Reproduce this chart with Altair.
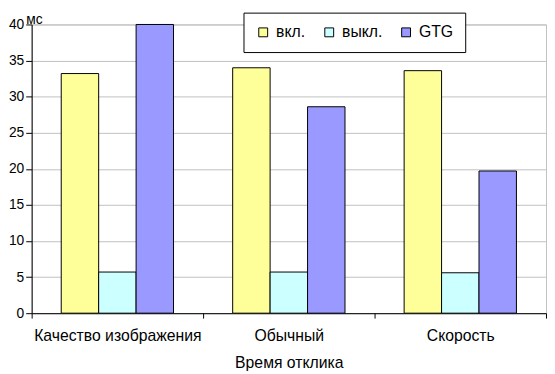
import altair as alt
import pandas as pd

categories = ["Качество изображения", "Обычный", "Скорость"]
series = ["вкл.", "выкл.", "GTG"]
vkl = [33.2, 34.0, 33.6]
vykl = [5.7, 5.7, 5.6]
gtg = [40.0, 28.6, 19.7]
colors = ["#FFFF99", "#CCFFFF", "#9999FF"]
y_ticks = [0, 5, 10, 15, 20, 25, 30, 35, 40]

rows = []
for i, c in enumerate(categories):
    for s, vals in zip(series, [vkl, vykl, gtg]):
        rows.append({"cat": c, "series": s, "value": vals[i]})
df = pd.DataFrame(rows)

FONT = "Liberation Sans"

chart = alt.Chart(df).mark_bar(stroke="black", strokeWidth=1).encode(
    x=alt.X(
        "cat:N", sort=categories, title="Время отклика",
        scale=alt.Scale(paddingInner=0, paddingOuter=0),
        axis=alt.Axis(labelAngle=0, tickBand="extent", tickSize=5, domainColor="black",
                      tickColor="black", labelFontSize=16, titleFontSize=16, labelPadding=10,
                      titleY=55, titleBaseline="alphabetic", labelColor="black",
                      titleColor="black", titleFontWeight="normal", grid=False,
                      labelFont=FONT, titleFont=FONT),
    ),
    xOffset=alt.XOffset("series:N", sort=series,
                        scale=alt.Scale(paddingInner=0, paddingOuter=0.79)),
    y=alt.Y(
        "value:Q",
        scale=alt.Scale(domain=[0, 40], nice=False),
        axis=alt.Axis(values=y_ticks, title="мс", titleAngle=0, titleX=-6, titleY=-1,
                      titleAlign="left", titleBaseline="alphabetic", titleFontSize=14,
                      titleFontWeight="normal", titleColor="black", titleFont=FONT,
                      labelFontSize=14, labelColor="black", labelFont=FONT, labelPadding=2,
                      tickSize=6, tickColor="black", domainColor="black",
                      gridColor="#c0c0c0", gridWidth=1),
    ),
    fill=alt.Fill(
        "series:N", sort=series,
        scale=alt.Scale(domain=series, range=colors),
        legend=alt.Legend(orient="none", legendX=215, legendY=-12, direction="horizontal",
                          title=None, strokeColor="black", fillColor="white", padding=12,
                          symbolType="square", symbolSize=81, symbolStrokeColor="black",
                          symbolStrokeWidth=1, labelFontSize=16, labelFont=FONT,
                          labelColor="black", columnPadding=16, labelOffset=5),
    ),
).properties(
    width=522, height=293,
    autosize=alt.AutoSizeParams(type="none"),
    padding={"left": 24, "top": 14, "right": 1, "bottom": 59},
).configure_view(stroke="#c0c0c0")

chart.save("out.html", embed_options={"renderer": "svg", "actions": False})
